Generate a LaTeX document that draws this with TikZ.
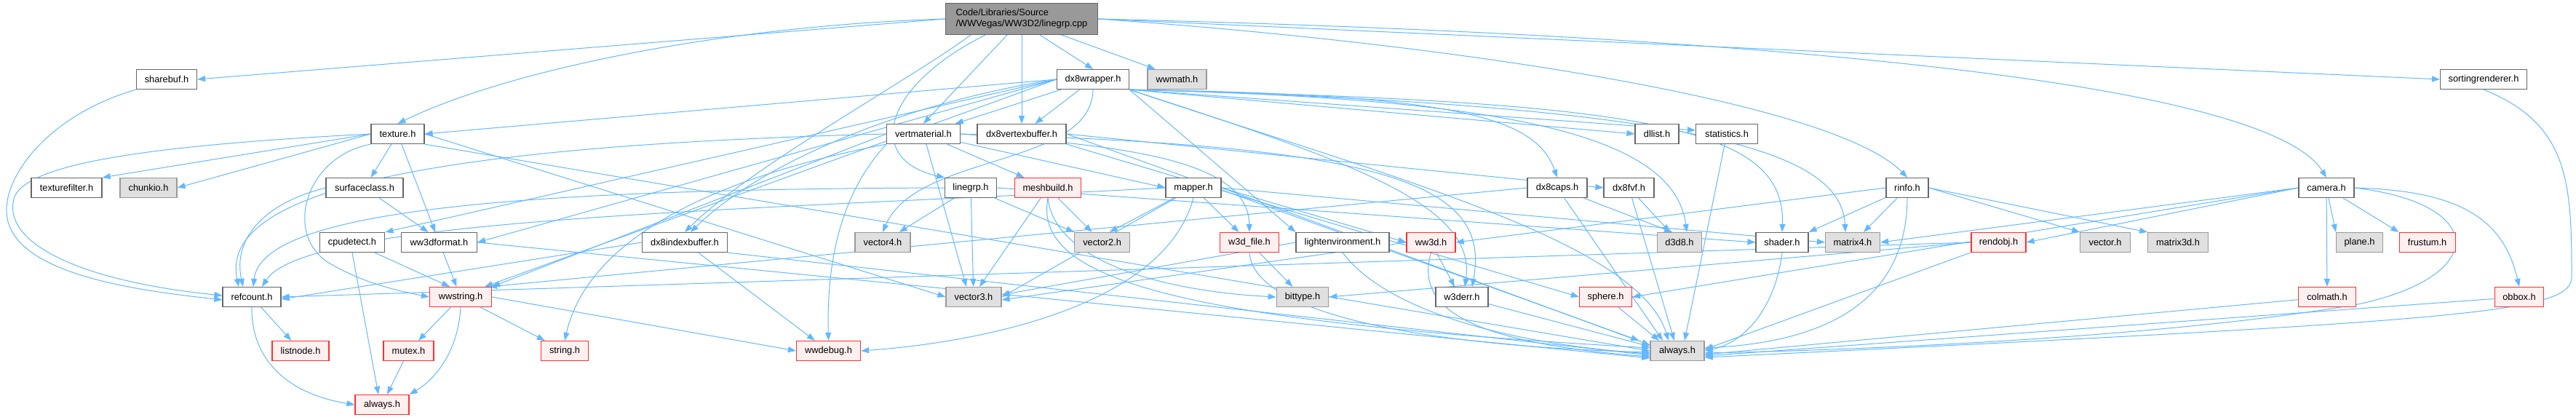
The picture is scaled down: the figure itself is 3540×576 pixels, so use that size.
\documentclass[tikz,border=0pt]{standalone}
\usepackage{fontspec}
\setmainfont{Liberation Sans}
\usetikzlibrary{arrows.meta}

\definecolor{edgeblue}{HTML}{63B8FF}
\definecolor{fileline}{HTML}{666666}
\definecolor{extline}{HTML}{999999}
\definecolor{extfill}{HTML}{E0E0E0}
\definecolor{truncline}{HTML}{FF3030}
\definecolor{truncfill}{HTML}{FFF0F0}
\definecolor{rootfill}{HTML}{999999}

\pgfdeclarelayer{edges}
\pgfsetlayers{edges,main}

\begin{document}
\begin{tikzpicture}[
    x=1pt, y=1pt,
    font=\fontsize{12.8}{15}\selectfont,
    %% Row centres:  y = -26 -109 -184 -258 -333 -408 -482 -556  (pitch about 74.5)
    hfile/.style={draw=fileline, fill=white, line width=1.2pt,
                  minimum height=27pt, inner sep=0pt},
    xfile/.style={hfile, draw=extline, fill=extfill},
    tfile/.style={hfile, draw=truncline, fill=truncfill},
    incl/.style={edgeblue, line width=1pt, -{Triangle[length=11pt,width=8pt]}},
]
\useasboundingbox (0,0) rectangle (3540,-576);

%% ── Source file ──────────────────────────────────────────────────────────
\node[hfile, fill=rootfill, draw=fileline, minimum width=209pt,
      minimum height=43pt, align=left] (root) at (1404,-26)
    {Code/Libraries/Source\\/WWVegas/WW3D2/linegrp.cpp};

%% ── Row 1 ────────────────────────────────────────────────────────────────
\node[hfile, minimum width=83pt]  (sharebuf) at (229,-109)    {sharebuf.h};
\node[hfile, minimum width=99pt]  (dxwrap)   at (1502,-109)   {dx8wrapper.h};
\node[xfile, minimum width=81pt]  (wwmath)   at (1617.5,-109) {wwmath.h};
\node[hfile, minimum width=119pt] (sortrend) at (3413,-109)   {sortingrenderer.h};

%% ── Row 2 ────────────────────────────────────────────────────────────────
\node[hfile, minimum width=73pt]  (texture) at (546.5,-184) {texture.h};
\node[hfile, minimum width=101pt] (vertmat) at (1269,-184)  {vertmaterial.h};
\node[hfile, minimum width=122pt] (dxvb)    at (1404,-184)  {dx8vertexbuffer.h};
\node[hfile, minimum width=60pt]  (dllist)  at (2277,-184)  {dllist.h};
\node[hfile, minimum width=85pt]  (stats)   at (2373,-184)  {statistics.h};

%% ── Row 3 ────────────────────────────────────────────────────────────────
\node[hfile, minimum width=97pt]   (texfilt)  at (91.5,-258)   {texturefilter.h};
\node[xfile, minimum width=78pt]   (chunkio)  at (204,-258)    {chunkio.h};
\node[hfile, minimum width=106pt]  (surfcls)  at (501,-258)    {surfaceclass.h};
\node[hfile, minimum width=70.5pt] (linegrph) at (1334,-258)   {linegrp.h};
\node[tfile, minimum width=91.5pt] (meshbld)  at (1440,-258)   {meshbuild.h};
\node[hfile, minimum width=76pt]   (mapper)   at (1640,-258)   {mapper.h};
\node[hfile, minimum width=82pt]   (dxcaps)   at (2140,-258)   {dx8caps.h};
\node[hfile, minimum width=69pt]   (dxfvf)    at (2238.5,-258) {dx8fvf.h};
\node[hfile, minimum width=58pt]   (rinfo)    at (2621,-258)   {rinfo.h};
\node[hfile, minimum width=76pt]   (camera)   at (3197,-258)   {camera.h};

%% ── Row 4 ────────────────────────────────────────────────────────────────
\node[hfile, minimum width=89.5pt] (cpudet)   at (484,-333)    {cpudetect.h};
\node[hfile, minimum width=104pt]  (wwfmt)    at (603.5,-333)  {ww3dformat.h};
\node[hfile, minimum width=117pt]  (dxib)     at (941,-333)    {dx8indexbuffer.h};
\node[xfile, minimum width=76pt]   (vecfour)  at (1213,-333)   {vector4.h};
\node[xfile, minimum width=76pt]   (vectwo)   at (1514.6,-333) {vector2.h};
\node[tfile, minimum width=81pt]   (wfile)    at (1717,-333)   {w3d\_file.h};
\node[hfile, minimum width=128pt]  (lightenv) at (1845,-333)   {lightenvironment.h};
\node[tfile, minimum width=67pt]   (wwtd)     at (1966.5,-333) {ww3d.h};
\node[xfile, minimum width=61pt]   (dtd)      at (2308,-333)   {d3d8.h};
\node[hfile, minimum width=72pt]   (shader)   at (2449,-333)   {shader.h};
\node[xfile, minimum width=75pt]   (matfour)  at (2546,-333)   {matrix4.h};
\node[tfile, minimum width=75pt]   (rendobj)  at (2746.5,-333) {rendobj.h};
\node[xfile, minimum width=68.5pt] (vector)   at (2893,-333)   {vector.h};
\node[xfile, minimum width=82.5pt] (matthree) at (2993,-333)   {matrix3d.h};
\node[xfile, minimum width=64pt]   (plane)    at (3242.5,-333) {plane.h};
\node[tfile, minimum width=77pt]   (frustum)  at (3335.6,-333) {frustum.h};

%% ── Row 5 ────────────────────────────────────────────────────────────────
\node[hfile, minimum width=80pt]   (refcnt)   at (346,-408)    {refcount.h};
\node[tfile, minimum width=85pt]   (wwstr)    at (633,-408)    {wwstring.h};
\node[xfile, minimum width=76pt]   (vecthree) at (1338,-408)   {vector3.h};
\node[xfile, minimum width=71.5pt] (bittype)  at (1790,-408)   {bittype.h};
\node[hfile, minimum width=72pt]   (werr)     at (2009,-408)   {w3derr.h};
\node[tfile, minimum width=72pt]   (sphere)   at (2206.5,-408) {sphere.h};
\node[tfile, minimum width=78.6pt] (colmath)  at (3198,-408)   {colmath.h};
\node[tfile, minimum width=67.5pt] (obbox)    at (3462,-408)   {obbox.h};

%% ── Rows 6 and 7 ─────────────────────────────────────────────────────────
\node[tfile, minimum width=78pt] (listnode) at (413,-482)    {listnode.h};
\node[tfile, minimum width=69pt] (mutex)    at (561.5,-482)  {mutex.h};
\node[tfile, minimum width=65pt] (stringh)  at (776,-482)    {string.h};
\node[tfile, minimum width=88pt] (wwdebug)  at (1138.5,-482) {wwdebug.h};
\node[xfile, minimum width=74pt] (alwaysg)  at (2305,-482)   {always.h};
\node[tfile, minimum width=74pt] (alwaysr)  at (525,-556)    {always.h};

\begin{pgfonlayer}{edges}
%% ═══════════════════════════════════════════════════════════════════════
%% INCLUDES OF linegrp.cpp
%% ═══════════════════════════════════════════════════════════════════════
\draw[incl] (root.west) -- (sharebuf.east);
\draw[incl] (root.west) .. controls (1000,-35) and (700,-95) .. (texture.north);
\draw[incl] ([xshift=-70pt]root.south) .. controls (1250,-110) and (1030,-230) .. (dxib.north);
\draw[incl] ([xshift=-50pt]root.south) .. controls (1210,-120) and (1190,-220) .. (linegrph.north west);
\draw[incl] ([xshift=-20pt]root.south) -- (vertmat.north);
\draw[incl] (root.south) -- (dxvb.north);
\draw[incl] ([xshift=25pt]root.south) -- (dxwrap.north);
\draw[incl] ([xshift=55pt]root.south) -- ([xshift=-30pt]wwmath.north);
\draw[incl] (root.east) -- (sortrend.west);
\draw[incl] (root.east) .. controls (2000,-60) and (2520,-140) .. (rinfo.north);
\draw[incl] (root.east) .. controls (2500,-50) and (3120,-120) .. (camera.north);

%% ═══════════════════════════════════════════════════════════════════════
%% dx8wrapper.h
%% ═══════════════════════════════════════════════════════════════════════
\draw[incl] (dxwrap.west) -- (texture.east);
\draw[incl] (dxwrap) -- (vertmat);
\draw[incl] (dxwrap) -- (dxvb);
\draw[incl] (dxwrap.west) .. controls (1250,-140) and (1050,-220) .. ([xshift=8pt]dxib.north);
\draw[incl] (dxwrap.west) -- (cpudet.north east);
\draw[incl] (dxwrap.west) -- ([xshift=-10pt]wwstr.north east);
\draw[incl] (dxwrap.west) -- (wwfmt.east);
\draw[incl] (dxwrap.south) .. controls (1500,-230) and (1260,-210) .. (vecfour.north);
\draw[incl] (dxwrap.south east) -- (lightenv.north west);
\draw[incl] (dxwrap.south east) -- (dllist.west);
\draw[incl] (dxwrap.south east) -- ([yshift=5pt]stats.west);
\draw[incl] (dxwrap.south east) .. controls (2000,-130) and (2110,-160) .. (dxcaps.north);
\draw[incl] (dxwrap.south east) .. controls (2050,-135) and (2300,-180) .. ([xshift=10pt]dtd.north);
\draw[incl] (dxwrap.south east) .. controls (2250,-140) and (2455,-170) .. (shader.north);
\draw[incl] (dxwrap.south east) .. controls (2350,-145) and (2530,-210) .. ([xshift=-10pt]matfour.north);
\draw[incl] (dxwrap.south east) .. controls (1850,-220) and (2030,-280) .. ([xshift=4pt]werr.north);
\draw[incl] (dxwrap.south east) .. controls (1900,-240) and (2250,-330) .. ([xshift=-12pt]alwaysg.north);

%% ═══════════════════════════════════════════════════════════════════════
%% texture.h, surfaceclass.h, sharebuf.h
%% ═══════════════════════════════════════════════════════════════════════
\draw[incl] (texture.west) -- (texfilt.north east);
\draw[incl] (texture.west) -- (chunkio.east);
\draw[incl] (texture) -- (surfcls);
\draw[incl] (texture) -- (wwfmt);
\draw[incl] (texture.west) .. controls (200,-200) and (40,-225) .. (20,-270)
    .. controls (0,-330) and (100,-385) .. ([yshift=2pt]refcnt.west);
\draw[incl] (texture.south west) .. controls (420,-215) and (390,-320) .. (450,-360)
    .. controls (500,-390) and (550,-400) .. (wwstr.west);
\draw[incl] (texture.east) -- (vecthree.west);
\draw[incl] (texture.south east) -- (alwaysg.west);
\draw[incl] (surfcls) -- ([xshift=-15pt]wwfmt.north);
\draw[incl] (surfcls.west) .. controls (360,-280) and (320,-330) .. ([xshift=-12pt]refcnt.north);
\draw[incl] (sharebuf.south west) .. controls (60,-160) and (0,-250) .. (10,-300)
    .. controls (25,-380) and (200,-400) .. ([yshift=-4pt]refcnt.west);

%% ═══════════════════════════════════════════════════════════════════════
%% vertmaterial.h, dx8vertexbuffer.h, dx8indexbuffer.h
%% ═══════════════════════════════════════════════════════════════════════
\draw[incl] (vertmat) -- (meshbld);
\draw[incl] (vertmat) -- (mapper.west);
\draw[incl] (vertmat.east) .. controls (1550,-200) and (1715,-220) .. (wfile.north);
\draw[incl] (vertmat.west) .. controls (600,-200) and (300,-260) .. ([xshift=-18pt]refcnt.north);
\draw[incl] (vertmat.south west) .. controls (1170,-250) and (1135,-330) .. (wwdebug.north);
\draw[incl] (vertmat.south west) .. controls (1000,-240) and (810,-320) .. (stringh.north);
\draw[incl] (vertmat.east) .. controls (1900,-200) and (2050,-250) .. ([xshift=14pt]werr.north);
\draw[incl] (vertmat) -- ([xshift=-10pt]vecthree.north);
\draw[incl] (vertmat.west) -- (wwstr.north east);
\draw[incl] (dxvb.east) -- (dxfvf.west);
\draw[incl] (dxvb.south east) -- (sphere.west);
\draw[incl] (dxvb.east) -- ([xshift=-15pt]alwaysg.north west);
\draw[incl] (dxib.west) -- ([yshift=-3pt]refcnt.east);
\draw[incl] (dxib) -- (wwdebug);
\draw[incl] (dxib.south east) -- ([yshift=-6pt]alwaysg.west);

%% ═══════════════════════════════════════════════════════════════════════
%% linegrp.h, meshbuild.h, mapper.h
%% ═══════════════════════════════════════════════════════════════════════
\draw[incl] (linegrph) -- (vecfour);
\draw[incl] (linegrph) -- (vecthree);
\draw[incl] (linegrph) -- (vectwo.north west);
\draw[incl] (linegrph.east) -- (shader.west);
\draw[incl] (linegrph.west) .. controls (700,-260) and (360,-290) .. ([xshift=2pt]refcnt.north);
\draw[incl] (meshbld) -- ([xshift=8pt]vecthree.north);
\draw[incl] (meshbld) -- (vectwo);
\draw[incl] (meshbld.south) .. controls (1450,-360) and (1600,-400) .. (bittype.west);
\draw[incl] (meshbld.south) .. controls (1420,-380) and (1600,-440) .. ([yshift=4pt]alwaysg.west);
\draw[incl] (mapper) -- ([xshift=10pt]vectwo.north);
\draw[incl] (mapper) -- (vecthree.east);
\draw[incl] (mapper) -- (wfile);
\draw[incl] (mapper.east) -- (wwtd.west);
\draw[incl] (mapper.east) -- (matfour.west);
\draw[incl] (mapper.west) .. controls (1000,-290) and (420,-300) .. ([xshift=14pt]refcnt.north);
\draw[incl] (mapper.south) .. controls (1600,-420) and (1350,-470) .. (wwdebug.east);
\draw[incl] (mapper.east) -- ([yshift=8pt]alwaysg.west);

%% ═══════════════════════════════════════════════════════════════════════
%% Middle rows
%% ═══════════════════════════════════════════════════════════════════════
\draw[incl] (wfile) -- (bittype);
\draw[incl] (wfile.south) .. controls (1722,-430) and (1950,-475) .. ([yshift=-2pt]alwaysg.west);
\draw[incl] (lightenv.west) -- ([yshift=3pt]vecthree.east);
\draw[incl] (lightenv.south) .. controls (1900,-420) and (2050,-470) .. ([yshift=-4pt]alwaysg.west);
\draw[incl] (wwtd) -- ([xshift=-10pt]werr.north);
\draw[incl] (wwtd.west) -- ([yshift=-4pt]vecthree.east);
\draw[incl] (wwtd.south) .. controls (1945,-420) and (2010,-470) .. ([yshift=-8pt]alwaysg.west);
\draw[incl] (dxcaps) -- ([xshift=-10pt]dtd.north);
\draw[incl] (dxcaps) -- ([xshift=-20pt]alwaysg.north);
\draw[incl] (dxcaps.west) -- ([xshift=-4pt]wwstr.north east);
\draw[incl] (dxfvf) -- (dtd);
\draw[incl] (dxfvf) -- (alwaysg);
\draw[incl] (stats) -- ([xshift=10pt]alwaysg.north);
\draw[incl] (werr) -- ([yshift=6pt]alwaysg.west);
\draw[incl] (sphere) -- ([xshift=-25pt]alwaysg.north);

%% ═══════════════════════════════════════════════════════════════════════
%% rinfo.h, camera.h, rendobj.h, sortingrenderer.h
%% ═══════════════════════════════════════════════════════════════════════
\draw[incl] (rinfo) -- (shader.north east);
\draw[incl] (rinfo) -- ([xshift=15pt]matfour.north);
\draw[incl] (rinfo.east) -- (vector.north west);
\draw[incl] (rinfo.east) -- (matthree.north west);
\draw[incl] (rinfo.west) -- (wwtd.east);
\draw[incl] (rinfo.south) .. controls (2620,-420) and (2500,-470) .. ([yshift=4pt]alwaysg.east);
\draw[incl] (shader.south) .. controls (2440,-420) and (2400,-470) .. (alwaysg.east);
\draw[incl] (camera.west) -- (rendobj.east);
\draw[incl] (camera.west) -- (matfour.east);
\draw[incl] (camera.west) -- (sphere.east);
\draw[incl] (camera) -- (plane.north west);
\draw[incl] (camera) -- (frustum.north west);
\draw[incl] (camera) -- (colmath);
\draw[incl] (camera.east) .. controls (3380,-262) and (3440,-300) .. (obbox.north);
\draw[incl] (camera.east) .. controls (3420,-280) and (3420,-380) .. (3240,-418)
    .. controls (3000,-460) and (2600,-480) .. ([yshift=-3pt]alwaysg.east);
\draw[incl] (rendobj.west) -- (refcnt.east);
\draw[incl] (rendobj.west) -- (bittype.east);
\draw[incl] (rendobj) -- ([yshift=2pt]alwaysg.east);
\draw[incl] (colmath) -- ([yshift=-5pt]alwaysg.east);
\draw[incl] (obbox) -- ([yshift=-7pt]alwaysg.east);
\draw[incl] (sortrend.south) .. controls (3530,-170) and (3534,-250) .. (3534,-380)
    .. controls (3534,-430) and (3400,-440) .. ([yshift=-9pt]alwaysg.east);

%% ═══════════════════════════════════════════════════════════════════════
%% Lower rows
%% ═══════════════════════════════════════════════════════════════════════
\draw[incl] (cpudet) -- ([xshift=-15pt]wwstr.north);
\draw[incl] (cpudet.south) -- ([xshift=-5pt]alwaysr.north);
\draw[incl] (wwfmt) -- (wwstr);
\draw[incl] (wwfmt.east) -- ([yshift=-10pt]alwaysg.west);
\draw[incl] (refcnt) -- (listnode);
\draw[incl] (refcnt.south) .. controls (345,-490) and (390,-540) .. (alwaysr.west);
\draw[incl] (wwstr) -- (mutex);
\draw[incl] (wwstr) -- (stringh);
\draw[incl] (wwstr.east) -- (wwdebug.west);
\draw[incl] (wwstr.south) .. controls (630,-480) and (600,-520) .. (alwaysr.north east);
\draw[incl] (mutex) -- (alwaysr);
\end{pgfonlayer}

\end{tikzpicture}
\end{document}
